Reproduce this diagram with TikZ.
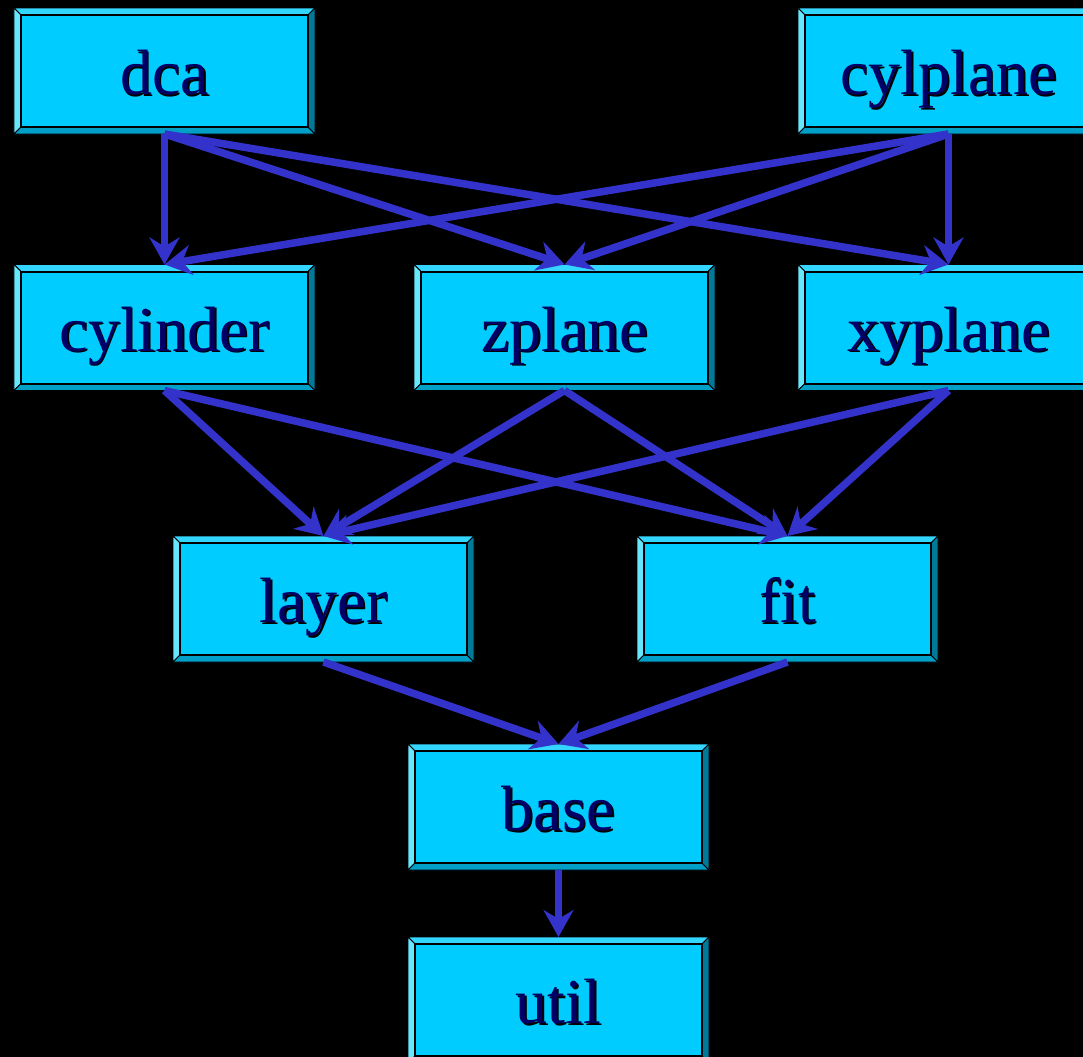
\documentclass[tikz,border=0pt]{standalone}
\usepackage{fontspec}
\setmainfont{Liberation Serif}
\usetikzlibrary{arrows.meta,calc}
\definecolor{face}{HTML}{00CCFF}
\definecolor{bevtop}{HTML}{33D6FF}
\definecolor{bevleft}{HTML}{66E6FF}
\definecolor{bevbot}{HTML}{009FC8}
\definecolor{bevright}{HTML}{007A99}
\definecolor{txt}{HTML}{000066}
\definecolor{arr}{HTML}{3333CC}
\tikzset{
  boxface/.style={rectangle,minimum width=301bp,minimum height=126bp,inner sep=0pt,outer sep=0pt},
  lbl/.style={anchor=base,inner sep=0pt,text=txt,font=\fontsize{64bp}{70bp}\selectfont},
  lblshadow/.style={anchor=base,inner sep=0pt,text=black,font=\fontsize{64bp}{70bp}\selectfont},
  conn/.style={draw=arr,line width=7.5bp,-{Stealth[length=27bp,width=30bp,inset=9bp]}},
}
\newcommand{\bevbox}[4]{%
  \node[boxface] (#1) at (#2,#3) {};
  \fill[face] ($(#1.north west)+(7,7)$) rectangle ($(#1.south east)+(-7,-7)$);
  \fill[bevtop,draw=black,line width=0.8bp] (#1.north west) -- (#1.north east) -- ($(#1.north east)+(-7,7)$) -- ($(#1.north west)+(7,7)$) -- cycle;
  \fill[bevleft,draw=black,line width=0.8bp] (#1.north west) -- ($(#1.north west)+(7,7)$) -- ($(#1.south west)+(7,-7)$) -- (#1.south west) -- cycle;
  \fill[bevbot,draw=black,line width=0.8bp] (#1.south west) -- ($(#1.south west)+(7,-7)$) -- ($(#1.south east)+(-7,-7)$) -- (#1.south east) -- cycle;
  \fill[bevright,draw=black,line width=0.8bp] (#1.north east) -- (#1.south east) -- ($(#1.south east)+(-7,-7)$) -- ($(#1.north east)+(-7,7)$) -- cycle;
  \draw[black,line width=2bp] ($(#1.north west)+(7,7)$) rectangle ($(#1.south east)+(-7,-7)$);
  \node[lblshadow] (#1-s) at ($(#1.north)+(1.8,88.3)$) {#4};
  \node[lbl] (#1-t) at ($(#1.north)+(0,86.5)$) {#4};
}
\begin{document}
\begin{tikzpicture}[x=1bp,y=-1bp]
\fill[black] (0,0) rectangle (1083,1057);
\useasboundingbox (0,0) rectangle (1083,1057);
\bevbox{dca}{164.5}{71}{dca}
\bevbox{cylplane}{948.5}{71}{cylplane}
\bevbox{cylinder}{164.5}{327.5}{cylinder}
\bevbox{zplane}{564.5}{327.5}{zplane}
\bevbox{xyplane}{948.5}{327.5}{xyplane}
\bevbox{layer}{323.5}{599}{layer}
\bevbox{fit}{787.5}{599}{fit}
\bevbox{base}{558.5}{807}{base}
\bevbox{util}{558.5}{1000}{util}
\draw[conn] (dca.south) -- (cylinder.north);
\draw[conn] (dca.south) -- (zplane.north);
\draw[conn] (dca.south) -- (xyplane.north);
\draw[conn] (cylplane.south) -- (cylinder.north);
\draw[conn] (cylplane.south) -- (zplane.north);
\draw[conn] (cylplane.south) -- (xyplane.north);
\draw[conn] (cylinder.south) -- (layer.north);
\draw[conn] (cylinder.south) -- (fit.north);
\draw[conn] (zplane.south) -- (layer.north);
\draw[conn] (zplane.south) -- (fit.north);
\draw[conn] (xyplane.south) -- (layer.north);
\draw[conn] (xyplane.south) -- (fit.north);
\draw[conn] (layer.south) -- (base.north);
\draw[conn] (fit.south) -- (base.north);
\draw[conn] (base.south) -- (util.north);
\end{tikzpicture}
\end{document}
